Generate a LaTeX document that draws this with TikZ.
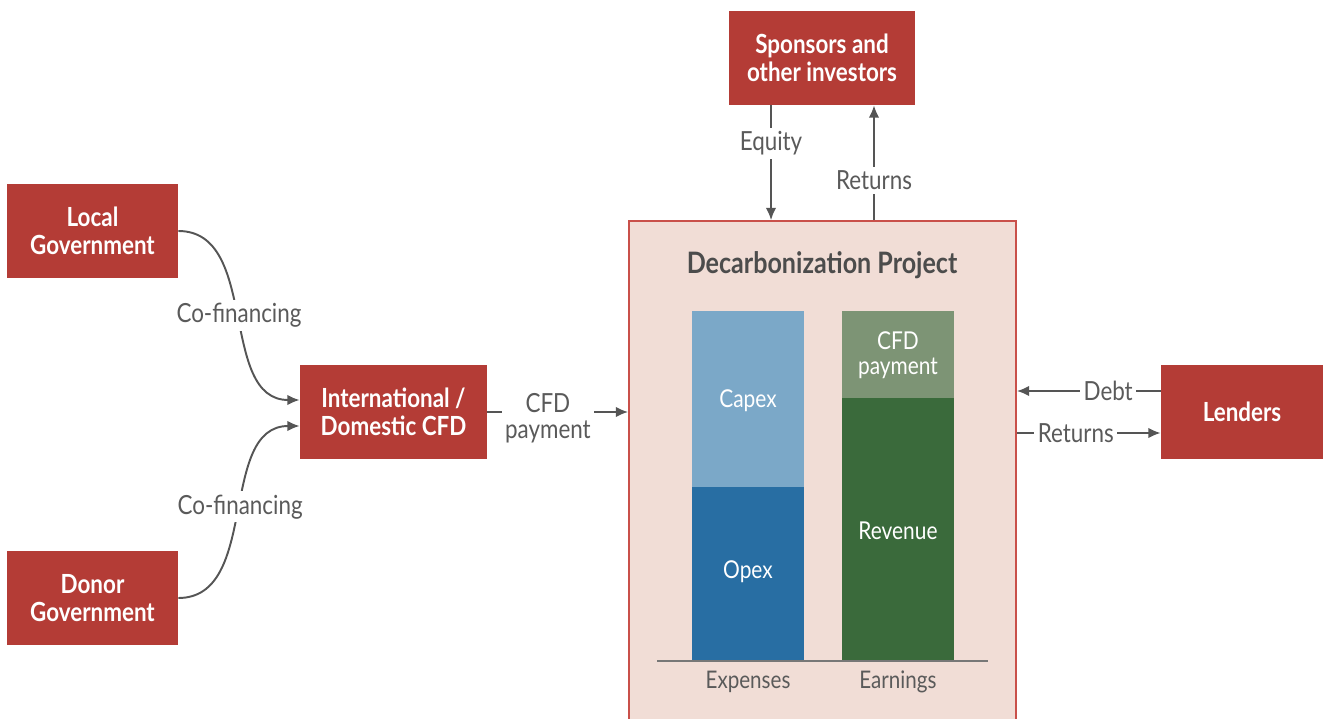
\documentclass[tikz,border=0pt]{standalone}
\usepackage{fontspec}
\setmainfont{Lato}[FakeStretch=0.85]
\usepackage{tikz}
\usetikzlibrary{calc}
\usetikzlibrary{arrows.meta}
\tikzset{>={Latex[length=7pt,width=6pt]}}
\definecolor{boxred}{HTML}{B43C36}
\definecolor{projfill}{HTML}{F1DDD6}
\definecolor{projedge}{HTML}{C9504A}
\definecolor{capexblue}{HTML}{7BA8C8}
\definecolor{opexblue}{HTML}{286EA3}
\definecolor{cfdgreen}{HTML}{7D9475}
\definecolor{revgreen}{HTML}{3A6A3B}
\definecolor{linegray}{HTML}{555555}
\definecolor{textgray}{HTML}{5A5A5A}
\tikzset{
  actor/.style={fill=boxred, text=white, font=\fontsize{15}{16}\selectfont\bfseries, align=center, inner sep=0pt},
  flow/.style={->, draw=linegray, line width=1.1pt},
  flowlabel/.style={fill=white, text=textgray, font=\fontsize{15}{14.7}\selectfont, align=center, inner sep=2pt},
  barlabel/.style={text=white, font=\fontsize{14}{14}\selectfont, align=center},
}

\begin{document}
\begin{tikzpicture}[x=0.02cm, y=-0.02cm]
            \useasboundingbox (0,0) rectangle (1324,719);
            % actors
            \node[actor, minimum width=3.42cm, minimum height=1.88cm] (local) at (92.5,231) {Local\\Government};
            \node[actor, minimum width=3.42cm, minimum height=1.88cm] (donor) at (92.5,598) {Donor\\Government};
            \node[actor, minimum width=3.74cm, minimum height=1.88cm] (cfd) at (393.5,412) {International /\\Domestic CFD};
            \node[actor, minimum width=3.72cm, minimum height=1.88cm] (spons) at (822,58) {Sponsors and\\other investors};
            \node[actor, minimum width=3.24cm, minimum height=1.88cm] (lend) at (1242,412) {Lenders};
            % project
            \node[fill=projfill, draw=projedge, line width=1pt, minimum width=7.74cm, minimum height=10.38cm, inner sep=0pt] (proj) at (822.5,480.5) {};
            \node[text=textgray!85!black, font=\fontsize{16.8}{18}\selectfont\bfseries] (title) at (822,265) {Decarbonization Project};
            % bars
            \fill[capexblue] (692,311) rectangle (804,487);
            \fill[opexblue] (692,487) rectangle (804,661);
            \fill[cfdgreen] (842,311) rectangle (954,398);
            \fill[revgreen] (842,398) rectangle (954,661);
            \draw[linegray!80, line width=0.9pt] (657,661) -- (988,661);
            \node[barlabel] (capex) at (748,401) {Capex};
            \node[barlabel] (opex) at (748,572) {Opex};
            \node[barlabel] (cfdpay) at (898,355) {CFD\\payment};
            \node[barlabel] (rev) at (898,531) {Revenue};
            \node[text=textgray, font=\fontsize{13.8}{15}\selectfont] (exp) at (748,682) {Expenses};
            \node[text=textgray, font=\fontsize{13.8}{15}\selectfont] (earn) at (898,682) {Earnings};
            % flows
            \draw[flow] (local.east) to[out=0, in=180] node[flowlabel] {Co-financing} ([yshift=0.24cm]cfd.west);
            \draw[flow] (donor.east) to[out=0, in=180] node[flowlabel, pos=0.52] {Co-financing} ([yshift=-0.28cm]cfd.west);
            \draw[flow] (cfd.east) -- node[flowlabel, pos=0.43, yshift=-0.12cm] {CFD\\payment} (cfd.east -| proj.west);
            \draw[flow] ([xshift=-1.02cm]spons.south) -- node[flowlabel, pos=0.33] {Equity} ([xshift=-1.02cm]spons.south |- proj.north);
            \draw[flow] ([xshift=1.04cm]spons.south |- proj.north) -- node[flowlabel, pos=0.345] {Returns} ([xshift=1.04cm]spons.south);
            \draw[flow] ([yshift=0.42cm]lend.west) -- node[flowlabel, pos=0.365] {Debt} ([yshift=0.42cm]lend.west -| proj.east);
            \draw[flow] ([yshift=-0.42cm]lend.west -| proj.east) -- node[flowlabel, pos=0.41] {Returns} ([yshift=-0.42cm]lend.west);
        \end{tikzpicture}
\end{document}
